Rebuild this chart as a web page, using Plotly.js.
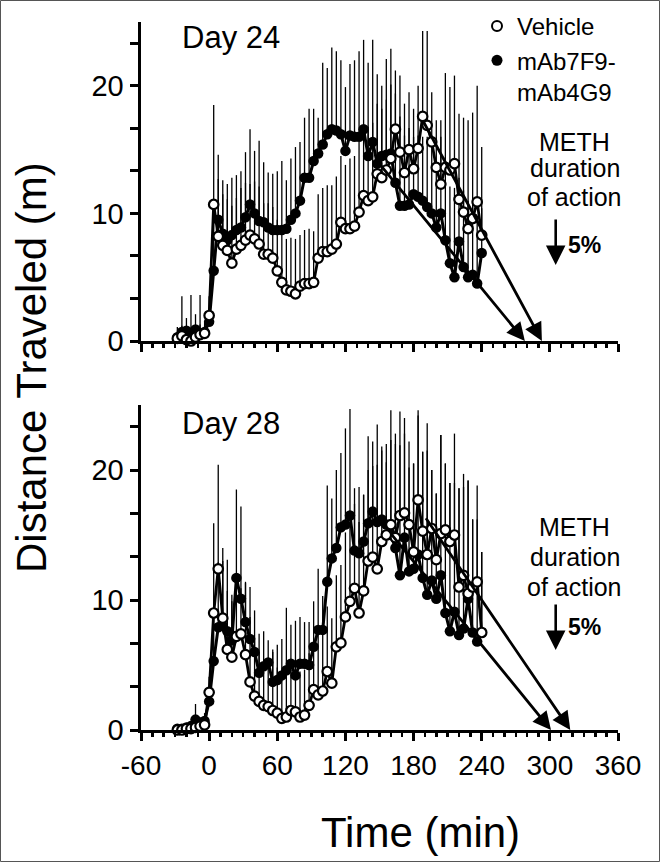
<!DOCTYPE html>
<html>
<head>
<meta charset="utf-8">
<script src="https://cdn.plot.ly/plotly-3.0.1.min.js"></script>
<style>
html,body{margin:0;padding:0;background:#fff;}
#chart{width:663px;height:863px;}
</style>
</head>
<body>
<div id="chart"></div>
<script>
// ---------- DATA ----------
const times = [-28,-24,-20,-16,-12,-8,-4,0,4,8,12,16,20,24,28,32,36,40,44,48,52,56,60,64,68,72,76,80,84,88,92,96,100,104,108,112,116,120,124,128,132,136,140,144,148,152,156,160,164,168,172,176,180,184,188,192,196,200,204,208,212,216,220,224,228,232,236,240];

const seriesNames = ['Vehicle', 'mAb7F9-<br>mAb4G9'];
const panelTitles = ['Day 24', 'Day 28'];

// Day 24
const d24Vehicle = [0.2,0.4,0.1,0.0,0.3,0.5,0.6,2.0,
  10.7,8.2,7.5,7.1,6.1,7.2,7.5,7.9,8.3,8.0,
  7.6,6.8,6.8,6.5,5.5,4.6,4.0,3.9,3.7,4.3,
  4.5,4.5,4.6,6.5,7.0,7.0,7.2,7.6,9.3,8.8,
  8.8,9.0,10.1,11.4,11.0,11.3,13.1,12.8,13.4,14.3,
  16.6,14.8,13.2,15.0,13.5,15.1,17.6,16.9,15.6,13.6,
  12.3,13.6,13.4,13.9,11.1,10.1,8.8,9.6,10.9,8.3];
const d24VehicleErr = [0.5,0.8,0.5,0.3,0.8,0.8,0.6,1.5,
  7.8,4.5,4.0,4.0,4.5,4.0,4.5,4.5,4.0,4.5,
  4.5,4.0,4.0,4.0,4.0,4.0,4.0,4.2,4.3,4.0,
  4.2,4.3,4.0,5.0,5.0,5.2,5.0,5.3,5.2,5.0,
  5.5,5.5,5.5,5.5,5.8,5.8,5.5,5.4,5.5,5.8,
  4.6,6.0,5.4,4.5,4.7,4.9,6.7,7.4,3.9,3.7,
  5.0,7.4,6.5,6.9,6.7,7.4,8.5,8.3,9.1,6.9];
const d24Mab = [0.3,0.7,0.8,0.6,0.9,0.6,0.7,1.5,
  5.5,9.5,8.4,7.9,8.3,8.7,8.9,9.7,10.7,10.0,
  9.4,9.3,8.9,8.7,8.7,8.7,8.8,9.5,10.0,11.0,
  12.8,12.8,14.1,14.7,15.4,16.2,16.6,16.5,16.2,14.9,
  16.1,16.0,16.0,16.6,14.5,15.6,13.9,14.5,14.6,14.7,
  12.4,10.6,10.6,10.7,11.5,11.3,11.0,10.5,10.0,8.9,
  10.0,7.9,6.1,5.0,7.8,5.8,5.0,5.2,4.5,6.9];
const d24MabErr = [0.8,2.8,1.0,3.0,1.2,3.0,0.8,1.0,
  4.0,5.1,4.2,4.4,4.5,4.3,4.4,5.1,5.9,4.9,
  6.3,4.7,4.3,4.4,4.6,5.4,3.8,4.8,5.2,4.6,
  4.7,5.4,4.1,2.8,6.4,5.2,6.4,6.2,5.8,5.0,
  5.6,6.0,6.7,7.0,7.3,8.0,7.0,5.5,7.5,8.2,
  7.0,7.0,5.5,6.0,4.5,4.8,5.0,5.5,5.5,5.0,
  6.0,6.5,6.0,7.0,5.0,6.0,6.0,5.5,5.0,3.5];

// Day 28
const d28Vehicle = [0.0,0.0,0.1,0.1,0.2,0.3,0.4,2.9,
  9.0,12.4,8.6,6.2,5.6,7.2,7.4,5.8,3.7,2.6,
  2.2,1.9,1.8,1.5,1.3,0.9,1.0,1.5,1.4,1.0,
  1.15,1.9,3.1,2.7,3.0,4.5,3.6,6.4,6.7,8.7,
  9.9,10.9,9.0,10.7,13.0,13.3,12.4,14.5,15.0,15.8,
  14.8,16.5,16.7,15.8,13.7,17.7,15.3,13.5,15.5,13.1,
  15.1,15.4,14.5,15.0,11.0,11.9,10.5,11.0,11.4,7.5];
const d28VehicleErr = [0.2,0.2,0.3,0.3,0.4,0.4,0.5,1.2,
  6.9,8.0,5.4,4.5,4.8,3.5,3.5,5.6,5.0,4.5,
  3.8,3.5,3.5,4.5,3.5,3.5,3.5,3.5,3.5,3.5,
  3.5,4.0,4.0,5.0,4.5,5.0,5.0,5.5,6.0,6.5,
  6.0,6.5,7.0,7.4,7.0,7.0,8.0,7.0,7.0,6.5,
  8.0,8.0,7.3,6.4,6.8,6.9,6.1,8.0,4.5,5.1,
  7.6,5.1,4.5,7.8,7.6,7.8,8.7,5.2,7.4,6.2];
const d28Mab = [0.1,0.1,0.2,0.3,0.8,0.5,0.7,2.2,
  5.3,7.9,8.0,7.6,6.9,11.7,10.1,8.3,7.0,6.0,
  4.4,4.9,5.2,3.7,3.85,4.2,4.6,5.1,4.2,5.1,
  5.1,5.0,6.4,7.7,7.7,11.4,13.2,14.0,15.6,15.8,
  16.5,13.8,13.6,14.5,15.9,16.8,16.0,16.2,15.8,15.0,
  14.0,11.9,14.8,12.2,12.4,13.5,11.7,10.4,11.5,10.1,
  11.9,9.0,7.6,9.1,7.3,7.8,10.1,7.5,6.8,7.5];
const d28MabErr = [0.2,0.2,0.3,0.4,1.2,0.5,0.6,1.0,
  4.0,5.0,5.0,5.5,3.0,6.8,7.1,3.0,4.0,3.2,
  3.0,2.7,1.7,2.5,2.7,2.8,4.8,3.0,4.2,3.6,
  3.2,3.3,3.5,4.7,2.6,7.4,4.6,6.0,5.7,7.4,
  8.2,4.8,5.1,3.6,6.7,5.4,7.5,5.6,4.8,9.6,
  8.0,10.0,8.0,8.0,8.1,10.7,9.7,13.2,8.5,8.1,
  10.8,11.5,11.4,9.9,11.3,10.9,9.1,8.7,9.4,6.2];

// Decay regression arrows: [startTime, startValue] -> [endTime, endValue]
const d24VehicleArrow = [[188, 17.3], [293, 0]];
const d24MabArrow     = [[148, 14.1], [278, 0]];
const d28VehicleArrow = [[190, 16.4], [318, 0]];
const d28MabArrow     = [[160, 15.1], [301, 0]];

const xTickVals = [-60, 0, 60, 120, 180, 240, 300, 360];
const xTickText = ['-60', '0', '60', '120', '180', '240', '300', '360'];
const yTickVals = [0, 10, 20];
const yTickText = ['0', '10', '20'];
const yTitle = 'Distance Traveled (m)';
const xTitle = 'Time (min)';
const noteLines = ['METH', 'duration', 'of action'];
const noteValue = '5%';

// ---------- CHART ----------
const FONT = 'Liberation Sans, Arial, Helvetica, sans-serif';
const zeros = times.map(() => 0);

function errY(arr) {
  return {type: 'data', symmetric: false, array: arr, arrayminus: zeros,
          width: 0, thickness: 1.3, color: '#000'};
}
function mabTrace(y, err, xa, ya) {
  return {x: times, y: y, xaxis: xa, yaxis: ya, type: 'scatter', mode: 'lines+markers',
          showlegend: false, cliponaxis: false,
          line: {color: 'black', width: 3},
          marker: {symbol: 'circle', size: 10.5, color: 'black'},
          error_y: errY(err)};
}
function vehTrace(y, err, xa, ya) {
  return {x: times, y: y, xaxis: xa, yaxis: ya, type: 'scatter', mode: 'lines+markers',
          showlegend: false, cliponaxis: false,
          line: {color: 'black', width: 2.8},
          marker: {symbol: 'circle', size: 9.5, color: 'white', line: {color: 'black', width: 2.2}},
          error_y: errY(err)};
}

const data = [
  mabTrace(d24Mab, d24MabErr, 'x', 'y'),
  vehTrace(d24Vehicle, d24VehicleErr, 'x', 'y'),
  mabTrace(d28Mab, d28MabErr, 'x2', 'y2'),
  vehTrace(d28Vehicle, d28VehicleErr, 'x2', 'y2'),
  // legend entries
  {x: [null], y: [null], type: 'scatter', mode: 'markers', name: seriesNames[0],
   marker: {symbol: 'circle', size: 10, color: 'white', line: {color: 'black', width: 2}}},
  {x: [null], y: [null], type: 'scatter', mode: 'markers', name: seriesNames[1],
   marker: {symbol: 'circle', size: 11, color: 'black'}}
];

const L = 141, R = 45, T = 22, B = 133, W = 663, H = 863;
const PW = W - L - R, PH = H - T - B;
const px = v => (v - L) / PW;          // pixel x -> paper x
const py = v => (H - B - v) / PH;      // pixel y -> paper y

function xAxis(showLabels, anchor) {
  return {range: [-60, 360], anchor: anchor, tickmode: 'array', tickvals: xTickVals, ticktext: xTickText,
          showticklabels: showLabels, ticks: 'outside', ticklen: 8, tickwidth: 3, tickcolor: 'black',
          showline: true, linewidth: 3, linecolor: 'black', showgrid: false, zeroline: false,
          tickfont: {size: 28, family: FONT, color: 'black'},
          minor: {tickmode: 'linear', tick0: 0, dtick: 10, ticks: 'outside', ticklen: 4, tickwidth: 2.5,
                  tickcolor: 'black', showgrid: false}};
}
function yAxis(domain, anchor) {
  return {range: [0, 25], domain: domain, anchor: anchor, tickmode: 'array', tickvals: yTickVals, ticktext: yTickText,
          ticks: 'outside', ticklen: 8, tickwidth: 3, tickcolor: 'black',
          showline: true, linewidth: 3.5, linecolor: 'black', showgrid: false, zeroline: false,
          tickfont: {size: 29, family: FONT, color: 'black'},
          minor: {tickmode: 'linear', tick0: 0, dtick: 10 / 3, ticks: 'outside', ticklen: 8, tickwidth: 3,
                  tickcolor: 'black', showgrid: false}};
}

function regArrow(a, xr, yr) {
  return {x: a[1][0], y: a[1][1], ax: a[0][0], ay: a[0][1], xref: xr, yref: yr, axref: xr, ayref: yr,
          text: '', showarrow: true, arrowhead: 2, arrowsize: 1.3, arrowwidth: 2.8, arrowcolor: 'black', standoff: 0};
}
function txt(text, x, y, size, extra) {
  return Object.assign({text: text, x: x, y: y, xref: 'paper', yref: 'paper', showarrow: false,
          xanchor: 'center', yanchor: 'middle', font: {size: size, family: FONT, color: 'black'}}, extra || {});
}

const annotations = [
  txt(panelTitles[0], px(180), py(37), 31, {xanchor: 'left'}),
  txt(panelTitles[1], px(180), py(423), 31, {xanchor: 'left'}),
  txt(noteLines[0], px(574.5), py(141.7), 25),
  txt(noteLines[1], px(574.5), py(168.5), 25),
  txt(noteLines[2], px(574.5), py(196.7), 25),
  txt(noteLines[0], px(574.5), py(526.7), 25),
  txt(noteLines[1], px(574.5), py(556.7), 25),
  txt(noteLines[2], px(574.5), py(586.7), 25),
  txt('<b>' + noteValue + '</b>', px(584), py(245), 23),
  txt('<b>' + noteValue + '</b>', px(584), py(627), 23),
  {x: px(555.7), y: py(265), xref: 'paper', yref: 'paper', ax: 0, ay: -47, text: '', showarrow: true,
   arrowhead: 2, arrowsize: 1.5, arrowwidth: 2.6, arrowcolor: 'black'},
  {x: px(555.7), y: py(650), xref: 'paper', yref: 'paper', ax: 0, ay: -47, text: '', showarrow: true,
   arrowhead: 2, arrowsize: 1.5, arrowwidth: 2.6, arrowcolor: 'black'},
  txt(yTitle, px(31), py(368), 42, {textangle: -90}),
  txt(xTitle, px(420), py(832), 42),
  regArrow(d24VehicleArrow, 'x', 'y'),
  regArrow(d24MabArrow, 'x', 'y'),
  regArrow(d28VehicleArrow, 'x2', 'y2'),
  regArrow(d28MabArrow, 'x2', 'y2')
];

const layout = {
  width: W, height: H,
  margin: {l: L, r: R, t: T, b: B, pad: 0, autoexpand: false},
  paper_bgcolor: 'white', plot_bgcolor: 'white',
  font: {family: FONT, color: 'black'},
  showlegend: true,
  legend: {x: px(477), xanchor: 'left', y: py(4), yanchor: 'top', bgcolor: 'rgba(0,0,0,0)',
           font: {size: 24, family: FONT, color: 'black'}, valign: 'top', traceorder: 'normal',
           itemclick: false, itemdoubleclick: false},
  xaxis: xAxis(false, 'y'),
  yaxis: yAxis([py(341), 1], 'x'),
  xaxis2: xAxis(true, 'y2'),
  yaxis2: yAxis([0, py(405)], 'x2'),
  annotations: annotations,
  shapes: [{type: 'rect', xref: 'paper', yref: 'paper', x0: px(0.5), x1: px(659.5), y0: py(861.5), y1: py(0.5),
            line: {color: '#555', width: 1}}],
  hovermode: false
};

Plotly.newPlot('chart', data, layout, {staticPlot: true, displayModeBar: false});
</script>
</body>
</html>
